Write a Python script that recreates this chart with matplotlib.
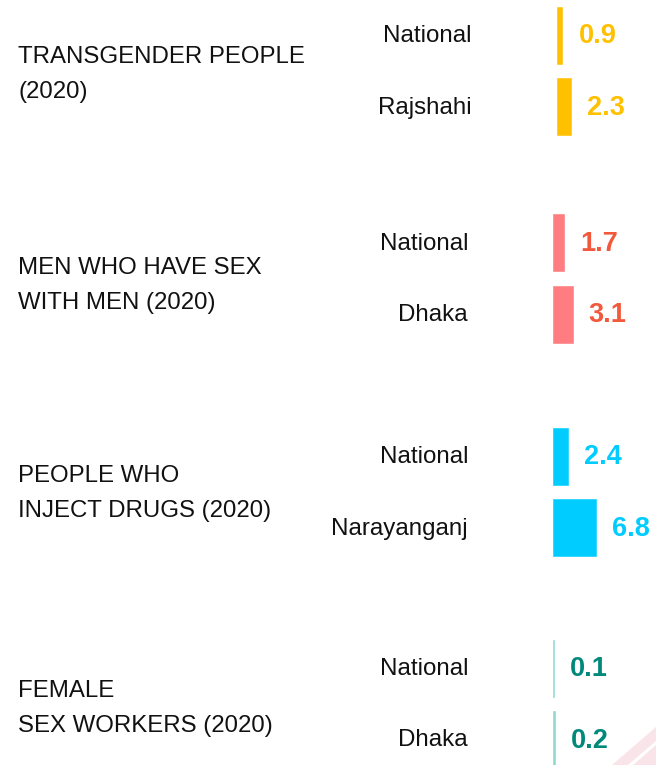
#!/usr/bin/env python3
"""Key population HIV prevalence bars, national vs. hotspot."""

import matplotlib
matplotlib.use('Agg')
import matplotlib.pyplot as plt
from matplotlib.patches import Polygon

# Data
GROUPS = ['TRANSGENDER PEOPLE\n(2020)',
          'MEN WHO HAVE SEX\nWITH MEN (2020)',
          'PEOPLE WHO\nINJECT DRUGS (2020)',
          'FEMALE\nSEX WORKERS (2020)']
PLACES = [['National', 'Rajshahi'],
          ['National', 'Dhaka'],
          ['National', 'Narayanganj'],
          ['National', 'Dhaka']]
VALUES = [[0.9, 2.3],
          [1.7, 3.1],
          [2.4, 6.8],
          [0.1, 0.2]]

# Colors
BAR_COLORS = ['#FFC000', '#FF7C80', '#00CCFF', '#8FD9CF']
TXT_COLORS = ['#FFC000', '#F2583C', '#00CCFF', '#00897B']
INK = '#111111'

# Layout (pixels)
W, H = 656, 765
X0 = 553.3           # bar baseline
PX_PER_UNIT = 6.3
GROUP_Y = [35, 242.5, 456, 668]
LABEL_Y = [74.5, 285.5, 493.5, 708.5]
ROW_GAP = 71.5
BAR_H = 57
SHIFT = [3.5, 0, 0, 0]   # transgender block sits a little to the right

plt.rcParams['font.family'] = ['Liberation Sans', 'DejaVu Sans']

fig = plt.figure(figsize=(W / 100, H / 100), dpi=100)
fig.patch.set_facecolor('white')

# pixel-space axes for labels and decoration
pax = fig.add_axes([0, 0, 1, 1])
pax.set_xlim(0, W)
pax.set_ylim(H, 0)
pax.axis('off')

# value-space axes for the bars
bax = fig.add_axes([0, 0, 1, 1])
bax.set_xlim(-X0 / PX_PER_UNIT, (W - X0) / PX_PER_UNIT)
bax.set_ylim(H, 0)
bax.axis('off')
bax.patch.set_alpha(0)

# faint corner decoration
pax.add_patch(Polygon([(612, 765), (656, 727), (656, 765)], closed=True,
                      facecolor='#F8E4E9', edgecolor='none'))
pax.add_patch(Polygon([(628, 765), (656, 741), (656, 745), (633, 765)], closed=True,
                      facecolor='white', edgecolor='none'))

for g, (label, places, vals) in enumerate(zip(GROUPS, PLACES, VALUES)):
    ys = [GROUP_Y[g] + i * ROW_GAP for i in range(len(vals))]
    left = SHIFT[g] / PX_PER_UNIT
    bax.barh(ys, vals, left=left, height=BAR_H, color=BAR_COLORS[g],
             edgecolor=BAR_COLORS[g], linewidth=0.4)

    for y, place, v in zip(ys, places, vals):
        pax.text(468 + SHIFT[g], y + 1, place, ha='right', va='center',
                 fontsize=17.4, color=INK)
        bax.text(left + v + 16 / PX_PER_UNIT, y + 1, f'{v:.1f}', ha='left', va='center',
                 fontsize=19.5, fontweight='bold', color=TXT_COLORS[g])

    pax.text(18, LABEL_Y[g], label, ha='left', va='center',
             fontsize=17.3, color=INK, linespacing=1.75)

fig.savefig('out.png', dpi=100, facecolor='white')
plt.close(fig)
